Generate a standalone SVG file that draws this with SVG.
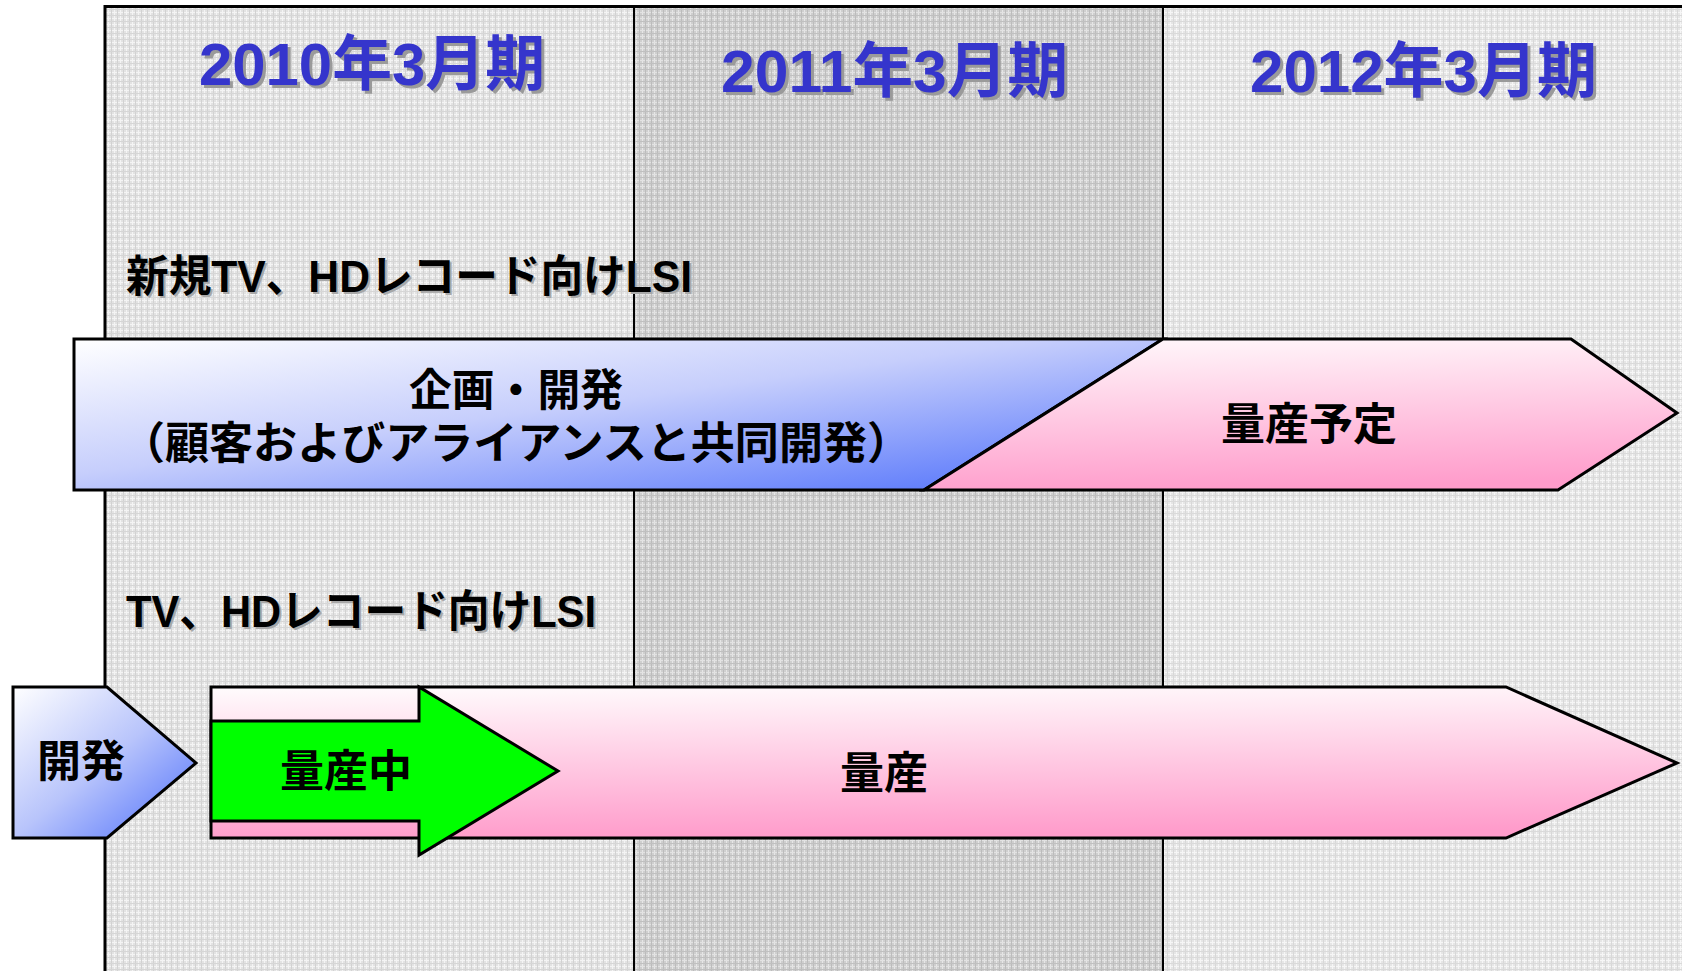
<svg xmlns="http://www.w3.org/2000/svg" width="1682" height="971" viewBox="0 0 1682 971">
<style>
.hdr{font-family:"Liberation Sans","Noto Sans CJK JP",sans-serif;font-weight:bold;font-size:60px;fill:#3535cc}
.hsh{font-family:"Liberation Sans","Noto Sans CJK JP",sans-serif;font-weight:bold;font-size:60px;fill:#9a9a9a}
.lbl{font-family:"Liberation Sans","Noto Sans CJK JP",sans-serif;font-weight:bold;font-size:44px;fill:#000}
.lsh{font-family:"Liberation Sans","Noto Sans CJK JP",sans-serif;font-weight:bold;font-size:44px;fill:#a8a8a8}
.txt{font-family:"Liberation Sans","Noto Sans CJK JP",sans-serif;font-weight:bold;font-size:44px;fill:#000;text-anchor:middle}
.shape{stroke:#000;stroke-width:3;stroke-linejoin:miter}
.div{stroke:#000;stroke-width:2}
</style>
<defs>
<pattern id="pLight" width="6" height="6" patternUnits="userSpaceOnUse">
<rect width="6" height="6" fill="#e3e3e3"/>
<rect x="0" width="1" height="6" fill="#f4f4f4"/>
<rect y="0" width="6" height="1" fill="#f4f4f4"/>
<rect x="3" width="1" height="6" fill="#d2d2d2"/>
<rect y="3" width="6" height="1" fill="#d6d6d6"/>
</pattern>
<pattern id="pDark" width="6" height="6" patternUnits="userSpaceOnUse">
<rect width="6" height="6" fill="#cfcfcf"/>
<rect x="0" width="1" height="6" fill="#e6e6e6"/>
<rect y="0" width="6" height="1" fill="#e2e2e2"/>
<rect x="3" width="1" height="6" fill="#bcbcbc"/>
<rect y="3" width="6" height="1" fill="#c0c0c0"/>
</pattern>
<pattern id="pLight3" width="6" height="6" patternUnits="userSpaceOnUse">
<rect width="6" height="6" fill="#e6e6e6"/>
<rect x="0" width="1" height="6" fill="#f6f6f6"/>
<rect y="0" width="6" height="1" fill="#f6f6f6"/>
<rect x="3" width="1" height="6" fill="#d8d8d8"/>
<rect y="3" width="6" height="1" fill="#dadada"/>
</pattern>
<linearGradient id="gBlue" x1="0" y1="0" x2="1" y2="1">
<stop offset="0" stop-color="#ffffff"/>
<stop offset="0.45" stop-color="#c6cefc"/>
<stop offset="1" stop-color="#4a6cfb"/>
</linearGradient>
<linearGradient id="gBlueSmall" x1="0" y1="0" x2="1" y2="1">
<stop offset="0" stop-color="#ffffff"/>
<stop offset="0.5" stop-color="#b8c4fb"/>
<stop offset="1" stop-color="#4a6cfb"/>
</linearGradient>
<linearGradient id="gPink" gradientUnits="objectBoundingBox" x1="0.3" y1="0" x2="0.45" y2="1">
<stop offset="0" stop-color="#fff6fa"/>
<stop offset="1" stop-color="#ff9ccb"/>
</linearGradient>
<linearGradient id="gPink2" gradientUnits="objectBoundingBox" x1="0.2" y1="0" x2="0.3" y2="1">
<stop offset="0" stop-color="#fffafc"/>
<stop offset="1" stop-color="#ff9ccb"/>
</linearGradient>
</defs>

<g id="background">
<rect x="104" y="6" width="530" height="965" fill="url(#pLight)"/>
<rect x="634" y="6" width="529" height="965" fill="url(#pDark)"/>
<rect x="1163" y="6" width="519" height="965" fill="url(#pLight3)"/>
<line class="div" x1="634" y1="6" x2="634" y2="971"/>
<line class="div" x1="1163" y1="6" x2="1163" y2="971"/>
<polyline points="105,971 105,6.5 1682,6.5" fill="none" stroke="#000" stroke-width="3"/>
</g>

<g id="header-2010">
<text class="hsh" x="202" y="88" textLength="346" lengthAdjust="spacingAndGlyphs">2010年3月期</text>
<text class="hdr" x="199" y="85" textLength="346" lengthAdjust="spacingAndGlyphs">2010年3月期</text>
</g>
<g id="header-2011">
<text class="hsh" x="724" y="95" textLength="347" lengthAdjust="spacingAndGlyphs">2011年3月期</text>
<text class="hdr" x="721" y="92" textLength="347" lengthAdjust="spacingAndGlyphs">2011年3月期</text>
</g>
<g id="header-2012">
<text class="hsh" x="1253" y="95" textLength="347" lengthAdjust="spacingAndGlyphs">2012年3月期</text>
<text class="hdr" x="1250" y="92" textLength="347" lengthAdjust="spacingAndGlyphs">2012年3月期</text>
</g>

<g id="label-new">
<text class="lsh" x="128" y="294" textLength="566" lengthAdjust="spacingAndGlyphs">新規TV、HDレコード向けLSI</text>
<text class="lbl" x="126" y="292" textLength="566" lengthAdjust="spacingAndGlyphs">新規TV、HDレコード向けLSI</text>
</g>

<g id="node-plan-dev">
<polygon class="shape" points="74,339 1163,339 924,490 74,490" fill="url(#gBlue)"/>
<text class="txt" x="516" y="406" textLength="214" lengthAdjust="spacingAndGlyphs">企画・開発</text>
<text class="txt" x="516" y="459" textLength="790" lengthAdjust="spacingAndGlyphs">（顧客およびアライアンスと共同開発）</text>
</g>

<g id="node-mass-plan">
<polygon class="shape" points="1163,339 1571,339 1677,413 1558,490 924,490" fill="url(#gPink)"/>
<text class="txt" x="1309" y="440" font-size="46">量産予定</text>
</g>

<g id="label-current">
<text class="lsh" x="128" y="629" textLength="470" lengthAdjust="spacingAndGlyphs">TV、HDレコード向けLSI</text>
<text class="lbl" x="126" y="627" textLength="470" lengthAdjust="spacingAndGlyphs">TV、HDレコード向けLSI</text>
</g>

<g id="node-dev">
<polygon class="shape" points="13,687 107,687 196,763 107,838 13,838" fill="url(#gBlueSmall)"/>
<text class="txt" x="81" y="777" font-size="46">開発</text>
</g>

<g id="node-mass">
<polygon class="shape" points="211,687 1506,687 1677,763 1506,838 211,838" fill="url(#gPink2)"/>
<text class="txt" x="884" y="789" font-size="46">量産</text>
</g>

<g id="node-mass-now">
<polygon class="shape" points="211,721 419,721 419,687 558,771 419,855 419,821 211,821" fill="#00ff00"/>
<text class="txt" x="346" y="787" font-size="42">量産中</text>
</g>
</svg>
